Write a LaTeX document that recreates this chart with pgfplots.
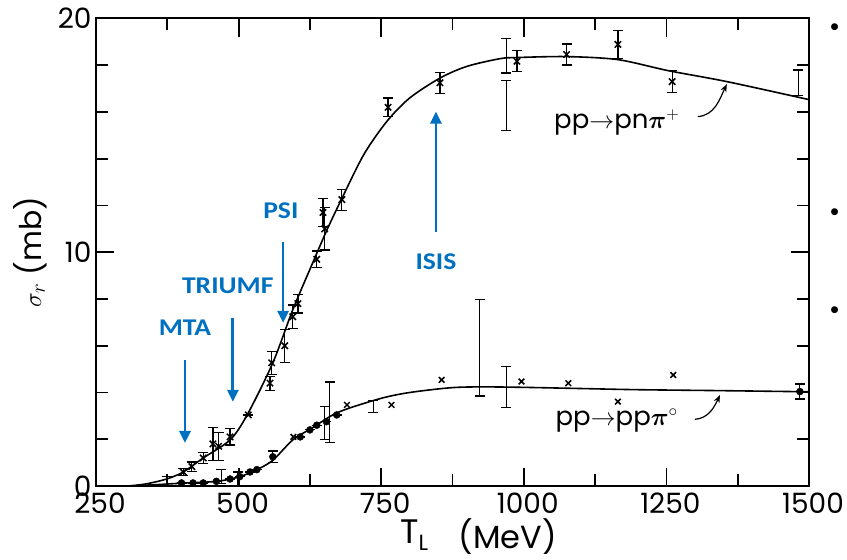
\documentclass[border=0pt]{standalone}
\usepackage{fontspec}
\setmainfont{Poppins}
\newfontfamily\carlito{Carlito}
\usepackage{amsmath}
\usepackage{pgfplots}
\pgfplotsset{compat=1.18}
\usetikzlibrary{arrows.meta}
\definecolor{slideblue}{RGB}{0,112,192}

\pgfplotstableread{
x y e
403 0.6 0.15
418 0.83 0.2
438 1.2 0.25
455 1.8 0.7
465 1.7 0.6
485 2.1 0.35
517 3.04 0.0
555 4.4 0.3
558 5.27 0.5
581 6.0 0.7
595 7.24 0.5
604 7.8 0.4
637 9.7 0.35
648 11.7 0.6
651 11.0 0.9
681 12.25 0.45
762 16.2 0.4
853 17.25 0.45
988 18.17 0.45
1075 18.46 0.45
1165 18.89 0.6
1260 17.3 0.47
}\pnpts

\pgfplotstableread{
x y e
969 18.4 0.73
969 16.27 1.07
1481 17.25 0.55
923 5.92 2.07
969 4.23 0.88
651 2.7 0.7
660 3.15 1.3
736 3.4 0.25
470 0.4 0.3
499 0.3 0.3
374 0.2 0.2
}\barsonly

\pgfplotstableread{
x y e
400 0.13 0
420 0.13 0
438 0.13 0
461 0.2 0
485 0.3 0
502 0.4 0
520 0.6 0
532 0.7 0
560 1.25 0.25
608 2.1 0
625 2.4 0
637 2.6 0
654 2.75 0
672 3.04 0
1484 4.04 0.32
}\ppdots

\pgfplotstableread{
x y
596 2.1
690 3.47
768 3.47
856 4.54
996 4.47
1078 4.4
1165 3.61
1262 4.75
}\ppx

\begin{document}
\begin{tikzpicture}
\path[use as bounding box] (0,0) rectangle (847pt,560pt);
\begin{axis}[
 at={(96pt,74pt)}, anchor=south west,
 scale only axis, width=713pt, height=467.5pt,
 xmin=250, xmax=1500, ymin=0, ymax=20,
 xtick={250,500,...,1500}, minor x tick num=1,
 ytick={0,10,20}, minor y tick num=4,
 tick align=inside,
 major tick length=18pt, minor tick length=12pt,
 axis line style={line width=2pt},
 tick style={line width=1.8pt, black},
 tick label style={font=\fontsize{28}{28}\selectfont},
 /pgf/number format/assume math mode=true,
 /pgf/number format/1000 sep={},
 xticklabel style={yshift=-3pt, xshift=4pt},
 yticklabel style={xshift=-1pt},
 clip=false,
 error bars/error mark options={rotate=90, line width=1.2pt, mark size=5pt, black},
]
% curves
\addplot[black, line width=1.6pt, smooth, tension=0.5] coordinates {
(310,0) (340,0.1) (374,0.3) (403,0.6) (438,1.2) (485,1.97) (515,3.04) (560,5.27) (595,7.54) (630,9.55) (655,10.96) (683,12.4) (720,14.2) (760,15.6) (800,16.6) (853,17.45) (900,17.95) (958,18.28) (988,18.33) (1075,18.37) (1165,18.24) (1253,17.77) (1356,17.3) (1500,16.53)};
\addplot[black, line width=1.6pt, smooth, tension=0.5] coordinates {
(300,0) (350,0.05) (400,0.12) (462,0.2) (502,0.4) (532,0.7) (560,1.1) (595,1.97) (630,2.5) (665,3.04) (695,3.34) (753,3.77) (800,4.0) (870,4.2) (923,4.24) (1000,4.22) (1100,4.17) (1200,4.12) (1344,4.08) (1500,4.03)};
% data
\addplot[black, only marks, mark=x, mark size=4.5pt, mark options={line width=1.5pt},
 error bars/.cd, y dir=both, y explicit,
 error bar style={line width=1.2pt, black}]
 table[x=x, y=y, y error=e] {\pnpts};
\addplot[draw=none, mark=none,
 error bars/.cd, y dir=both, y explicit,
 error bar style={draw=black, line width=1.2pt, black}]
 table[x=x, y=y, y error=e] {\barsonly};
\addplot[black, only marks, mark=*, mark size=3.5pt,
 error bars/.cd, y dir=both, y explicit,
 error bar style={line width=1.2pt, black}]
 table[x=x, y=y, y error=e] {\ppdots};
\addplot[black, only marks, mark=x, mark size=4pt, mark options={line width=1.5pt}]
 table[x=x, y=y] {\ppx};

% reaction labels
\node[font=\fontsize{26}{26}\selectfont] at (axis cs:1163,15.55) {pp$\to$pn$\boldsymbol{\pi}^{+}$};
\draw[line width=1.2pt, -{Stealth[length=8pt,width=6pt]}] (axis cs:1305,15.8) to[out=5, in=245] (axis cs:1356,17.2);
\node[font=\fontsize{26}{26}\selectfont] at (axis cs:1163,2.8) {pp$\to$pp$\boldsymbol{\pi}^{\circ}$};
\draw[line width=1.2pt, -{Stealth[length=8pt,width=6pt]}] (axis cs:1300,2.85) to[out=5, in=245] (axis cs:1344,3.9);

% blue annotations
\begin{scope}[every node/.style={text=slideblue, font=\carlito\bfseries\fontsize{24}{24}\selectfont, xscale=1.15}]
\node at (axis cs:574,11.78) {PSI};
\node at (axis cs:481,8.56) {TRIUMF};
\node at (axis cs:406,6.77) {MTA};
\node at (axis cs:846,9.59) {ISIS};
\end{scope}
\begin{scope}[slideblue, line width=2.8pt, -{Triangle[length=12pt,width=11pt]}]
\draw (axis cs:578,10.45) -- (axis cs:578,6.98);
\draw (axis cs:490,7.19) -- (axis cs:490,3.6);
\draw (axis cs:406,5.4) -- (axis cs:406,1.84);
\draw (axis cs:846,10.88) -- (axis cs:846,16.02);
\end{scope}

% axis labels
\node[font=\fontsize{34}{34}\selectfont, anchor=center] at (axis cs:808,-2.1) {T\raisebox{-0.22em}{\fontsize{22}{22}\selectfont L}};
\node[font=\fontsize{32}{32}\selectfont, anchor=center] at (axis cs:972,-2.15) {(MeV)};
\node[font=\fontsize{30}{30}\selectfont, rotate=90] at (axis cs:134,10.0) {$\sigma_{r}$ (mb)};

% slide bullets
\node[font=\fontsize{28}{28}\selectfont] at (axis cs:1545,19.5) {\textbullet};
\node[font=\fontsize{28}{28}\selectfont] at (axis cs:1545,11.6) {\textbullet};
\node[font=\fontsize{28}{28}\selectfont] at (axis cs:1545,7.4) {\textbullet};
\end{axis}
\end{tikzpicture}
\end{document}
